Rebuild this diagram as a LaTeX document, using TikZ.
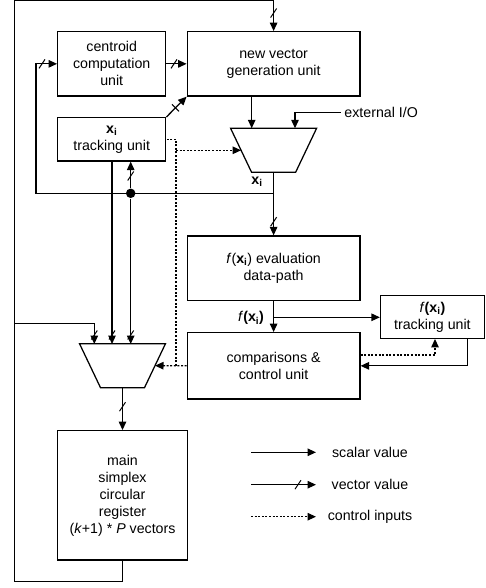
\documentclass[tikz,border=0pt]{standalone}
\usepackage{fontspec}
\setmainfont{Liberation Sans}
\usetikzlibrary{arrows.meta,shapes.geometric,calc}
\newcommand\bxi{\textbf{x}\textsubscript{\textbf{i}}}
\begin{document}
\begin{tikzpicture}[x=1pt,y=-1pt,line width=1.25pt,
  every node/.style={font=\fontsize{14.2}{17}\selectfont},
  blk/.style={draw,inner sep=0pt,align=center},
  arr/.style={-{Triangle[length=8.5pt,width=7.5pt]}},
  ctl/.style={dash pattern=on 2pt off 1.6pt},
  mux/.style={draw,trapezium,trapezium angle=64.5,shape border rotate=180,
    trapezium stretches body,inner xsep=0pt,inner ysep=22pt,minimum width=86pt,
    minimum height=44pt,outer sep=0pt},
  jdot/.style={circle,fill,inner sep=0pt,minimum size=9.5pt},
  vsl/.pic={\draw[line width=1pt] (-3,4.5) -- (3,-4.5);},
  dsl/.pic={\draw[line width=1pt] (-3.5,-3.5) -- (3.5,3.5);}
]
\useasboundingbox (0,0) rectangle (485,588);

% blocks
\node[blk,minimum width=108pt,minimum height=64.3pt] (centroid) at (111.7,63.85) {centroid\\computation\\unit};
\node[blk,minimum width=172.7pt,minimum height=64.3pt] (newvec) at (273.6,63.85) {new vector\\generation unit};
\node[blk,minimum width=108pt,minimum height=43.3pt] (xitrack) at (111.7,139.35) {\bxi\\tracking unit};
\node[mux] (mux1) at (273.6,150.3) {};
\node[blk,minimum width=172.7pt,minimum height=64.7pt] (fdata) at (273.6,268.35) {\textit{f}(\bxi) evaluation\\data-path};
\node[blk,minimum width=172.7pt,minimum height=66.3pt] (comps) at (273.6,365.85) {comparisons \&\\control unit};
\node[blk,minimum width=103.8pt,minimum height=42.8pt] (ftrack) at (432.4,316.9) {\textit{f}\textbf{(}\bxi\textbf{)}\\tracking unit};
\node[mux] (mux2) at (122.5,365.65) {};
\node[blk,minimum width=129.6pt,minimum height=129.3pt] (main) at (122.5,495.35) {main\\simplex\\circular\\register\\(\textit{k}+1) * \textit{P} vectors};

% labels
\node[anchor=west] (ext) at (340.5,112.7) {external I/O};
\node (xilab) at (257,181.7) {\bxi};
\node (fxlab) at (251,318.3) {\textit{f}\textbf{(}\bxi\textbf{)}};

% helper coordinates
\coordinate (topl) at (14.3,0);
\coordinate (botl) at (14.3,581.7);
\coordinate (brl) at (14.3,323.3);
\coordinate (m2a) at (94.3,344);
\coordinate (m2b) at (112,344);
\coordinate (m2c) at (130.7,344);
\coordinate (hb) at (273.6,193.3);
\coordinate (cl) at (36,193.3);
\coordinate (m1a) at (251.7,128.3);
\coordinate (m1b) at (295,128.3);
\coordinate (fb) at (273.6,317.3);
\coordinate (ctop) at (435,355);
\coordinate (fret) at (467.7,365.85);
\coordinate (dv) at (176,365.85);
\coordinate (dj) at (176,150.3);

% outer loop
\draw[arr] (main.south) -- (main.south |- botl) -- (botl) -- (topl) -| (newvec.north);
\pic at (273.6,13) {vsl};
\draw[arr] (brl) -| (m2a);
\pic at (94.3,335) {vsl};

% centroid feedback
\draw[arr] (hb) -- (cl) |- (centroid.west);
\pic at (42,63.85) {vsl};
\draw[arr] (centroid.east) -- (newvec.west);
\pic at (174,63.85) {vsl};
\draw[arr] (xitrack.north east) -- (newvec.south west);
\pic at (175.5,107.8) {dsl};

% junction
\node[jdot] (dot) at (130.7,193.3) {};
\draw[arr] (dot) -- (xitrack.south -| dot);
\pic at (130.7,176) {vsl};
\draw[arr] (dot) -- (m2c);
\pic at (130.7,335) {vsl};
\draw[arr] (xitrack.south -| m2b) -- (m2b);
\pic at (112,335) {vsl};

% mux1
\draw[arr] (newvec.south -| m1a) -- (m1a);
\draw[arr] (ext.west) -| (m1b);
\draw[arr] (mux1.south) -- (fdata.north);
\pic at (273.6,221.7) {vsl};

% f evaluation
\draw[arr] (fdata.south) -- (comps.north);
\draw[arr] (fb) -- (ftrack.west |- fb);
\draw[ctl,arr] (comps.east |- ctop) -| (ftrack.south -| ctop);
\draw[arr] (ftrack.south -| fret) -- (fret) -- (comps.east);

% control lines
\draw[ctl,arr] (comps.west) -- (mux2.east);
\draw[ctl] (dv) |- (xitrack.east);
\draw[ctl,arr] (dj) -- (mux1.west);

% mux2 out
\draw[arr] (mux2.south) -- (main.north);
\pic at (122.5,406.7) {vsl};

% legend
\coordinate (l1a) at (251,452.3); \coordinate (l1b) at (316,452.3);
\coordinate (l2a) at (251,484.7); \coordinate (l2b) at (316,484.7);
\coordinate (l3a) at (251,516.7); \coordinate (l3b) at (316,516.7);
\draw[arr] (l1a) -- (l1b);
\draw[arr] (l2a) -- (l2b);
\pic at (298,484.7) {vsl};
\draw[ctl,arr] (l3a) -- (l3b);
\node (t1) at (370,452.3) {scalar value};
\node (t2) at (370,484.7) {vector value};
\node (t3) at (370,516.7) {control inputs};
\end{tikzpicture}
\end{document}
